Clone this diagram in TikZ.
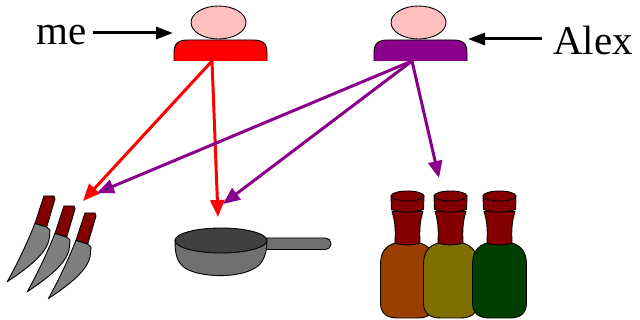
\documentclass[tikz,border=0pt]{standalone}
\usepackage{fontspec}
\setmainfont{Liberation Serif}
\usetikzlibrary{arrows.meta}
\definecolor{skin}{HTML}{FFBFBF}
\definecolor{plum}{HTML}{8B008B}
\definecolor{hilt}{HTML}{840000}
\definecolor{steel}{HTML}{7F7F7F}
\definecolor{pantop}{HTML}{404040}
\definecolor{panbody}{HTML}{707070}
\definecolor{rust}{HTML}{993F00}
\definecolor{olive}{HTML}{7F6F00}
\definecolor{bottlegreen}{HTML}{003F00}
\tikzset{
  outline/.style={draw=black, line width=0.9pt, line join=round},
  label/.style={inner sep=0pt, anchor=base west, font=\fontsize{41}{41}\selectfont},
  pointer/.style={draw=black, line width=3pt, -{Triangle[length=17pt,width=12pt]}},
  link/.style={draw=#1, line width=3pt, -{Triangle[length=17pt,width=14pt]}},
  pics/person/.style={code={
    \fill[#1] (-46.5,61) -- (-46.5,53) .. controls (-46.5,43) and (-42,40) .. (-32,40)
      -- (32,40) .. controls (42,40) and (46.5,43) .. (46.5,53) -- (46.5,61) -- cycle;
    \draw[outline] (-46.5,61) -- (-46.5,53) .. controls (-46.5,43) and (-42,40) .. (-32,40)
      -- (32,40) .. controls (42,40) and (46.5,43) .. (46.5,53) -- (46.5,61);
    \draw[outline, fill=skin] (-2,22.5) ellipse [x radius=27.5, y radius=16.5];
  }},
  pics/knife/.style={code={
    \draw[outline, fill=steel] (-9,27.3) .. controls (-18,50) and (-28,70) .. (-36.7,85.7)
      .. controls (-18,73) and (5,57) .. (5.5,40) -- (6,34) -- (2.7,31) -- cycle;
    \draw[outline, fill=hilt] (0,0) -- (10,0) -- (11,3) -- (2.7,31) -- (-9,27.3) -- cycle;
  }},
  pics/bottle/.style={code={
    % body
    \draw[outline, fill=#1] (-12.5,243) .. controls (-22,246) and (-27,252) .. (-27,265)
      -- (-27,303) .. controls (-27,314) and (-20,318) .. (-10,318) -- (10,318)
      .. controls (20,318) and (27,314) .. (27,303) -- (27,265)
      .. controls (27,252) and (22,246) .. (12.5,243) -- cycle;
    % neck
    \draw[outline, fill=hilt] (-15.5,211.5) .. controls (-12,222) and (-12,232) .. (-12.5,243)
      .. controls (-5,245.5) and (5,245.5) .. (12.5,243)
      .. controls (12,232) and (12,222) .. (15.5,211.5) -- cycle;
    % lip
    \draw[outline, fill=hilt] (-16.5,196) -- (-16,209.5) .. controls (-8,213) and (8,213) .. (16,209.5)
      -- (16.5,196) -- cycle;
    \draw[outline, fill=hilt] (0,196) ellipse [x radius=16.5, y radius=5];
  }},
}
\begin{document}
\begin{tikzpicture}[x=1pt, y=-1pt]
\useasboundingbox (0,0) rectangle (640,320);

% people
\pic at (220.5,0) {person=red};
\pic at (420.5,0) {person=plum};

% names with pointers
\node[label] (metext) at (36,45) {me};
\node[label] (alextext) at (553,55) {Alex};
\coordinate (meBody) at (173,33);
\coordinate (alexBody) at (468,39);
\draw[pointer] (metext.east |- meBody) ++(7,0) -- (meBody);
\draw[pointer] (alextext.west |- alexBody) ++(-11,0) -- (alexBody);

% knives
\pic at (44,196) {knife};
\pic at (64,206) {knife};
\pic at (85,213) {knife};

% frying pan
\draw[outline, fill=panbody, rounded corners=5.5pt] (262,238) rectangle (331,249.5);
\draw[outline, fill=panbody] (175,240) .. controls (175,255) and (177,262) .. (185,268)
  .. controls (198,277) and (240,280) .. (258,266)
  .. controls (265,260) and (267,250) .. (267,240) -- cycle;
\draw[outline, fill=pantop] (221,240.5) ellipse [x radius=46, y radius=12.5];

% bottles
\pic at (407.5,0) {bottle=rust};
\pic at (450.5,0) {bottle=olive};
\pic at (499.5,0) {bottle=bottlegreen};

% who uses what
\coordinate (meOut) at (212,61);
\coordinate (alexOut) at (412,61);
\coordinate (knivesA) at (83,201);
\coordinate (knivesB) at (97,193);
\coordinate (panA) at (218,217);
\coordinate (panB) at (223,204);
\coordinate (bottles) at (439,178);
\draw[link=red] (meOut) -- (knivesA);
\draw[link=red] (meOut) -- (panA);
\draw[link=plum] (alexOut) -- (knivesB);
\draw[link=plum] (alexOut) -- (panB);
\draw[link=plum] (alexOut) -- (bottles);
\end{tikzpicture}
\end{document}
